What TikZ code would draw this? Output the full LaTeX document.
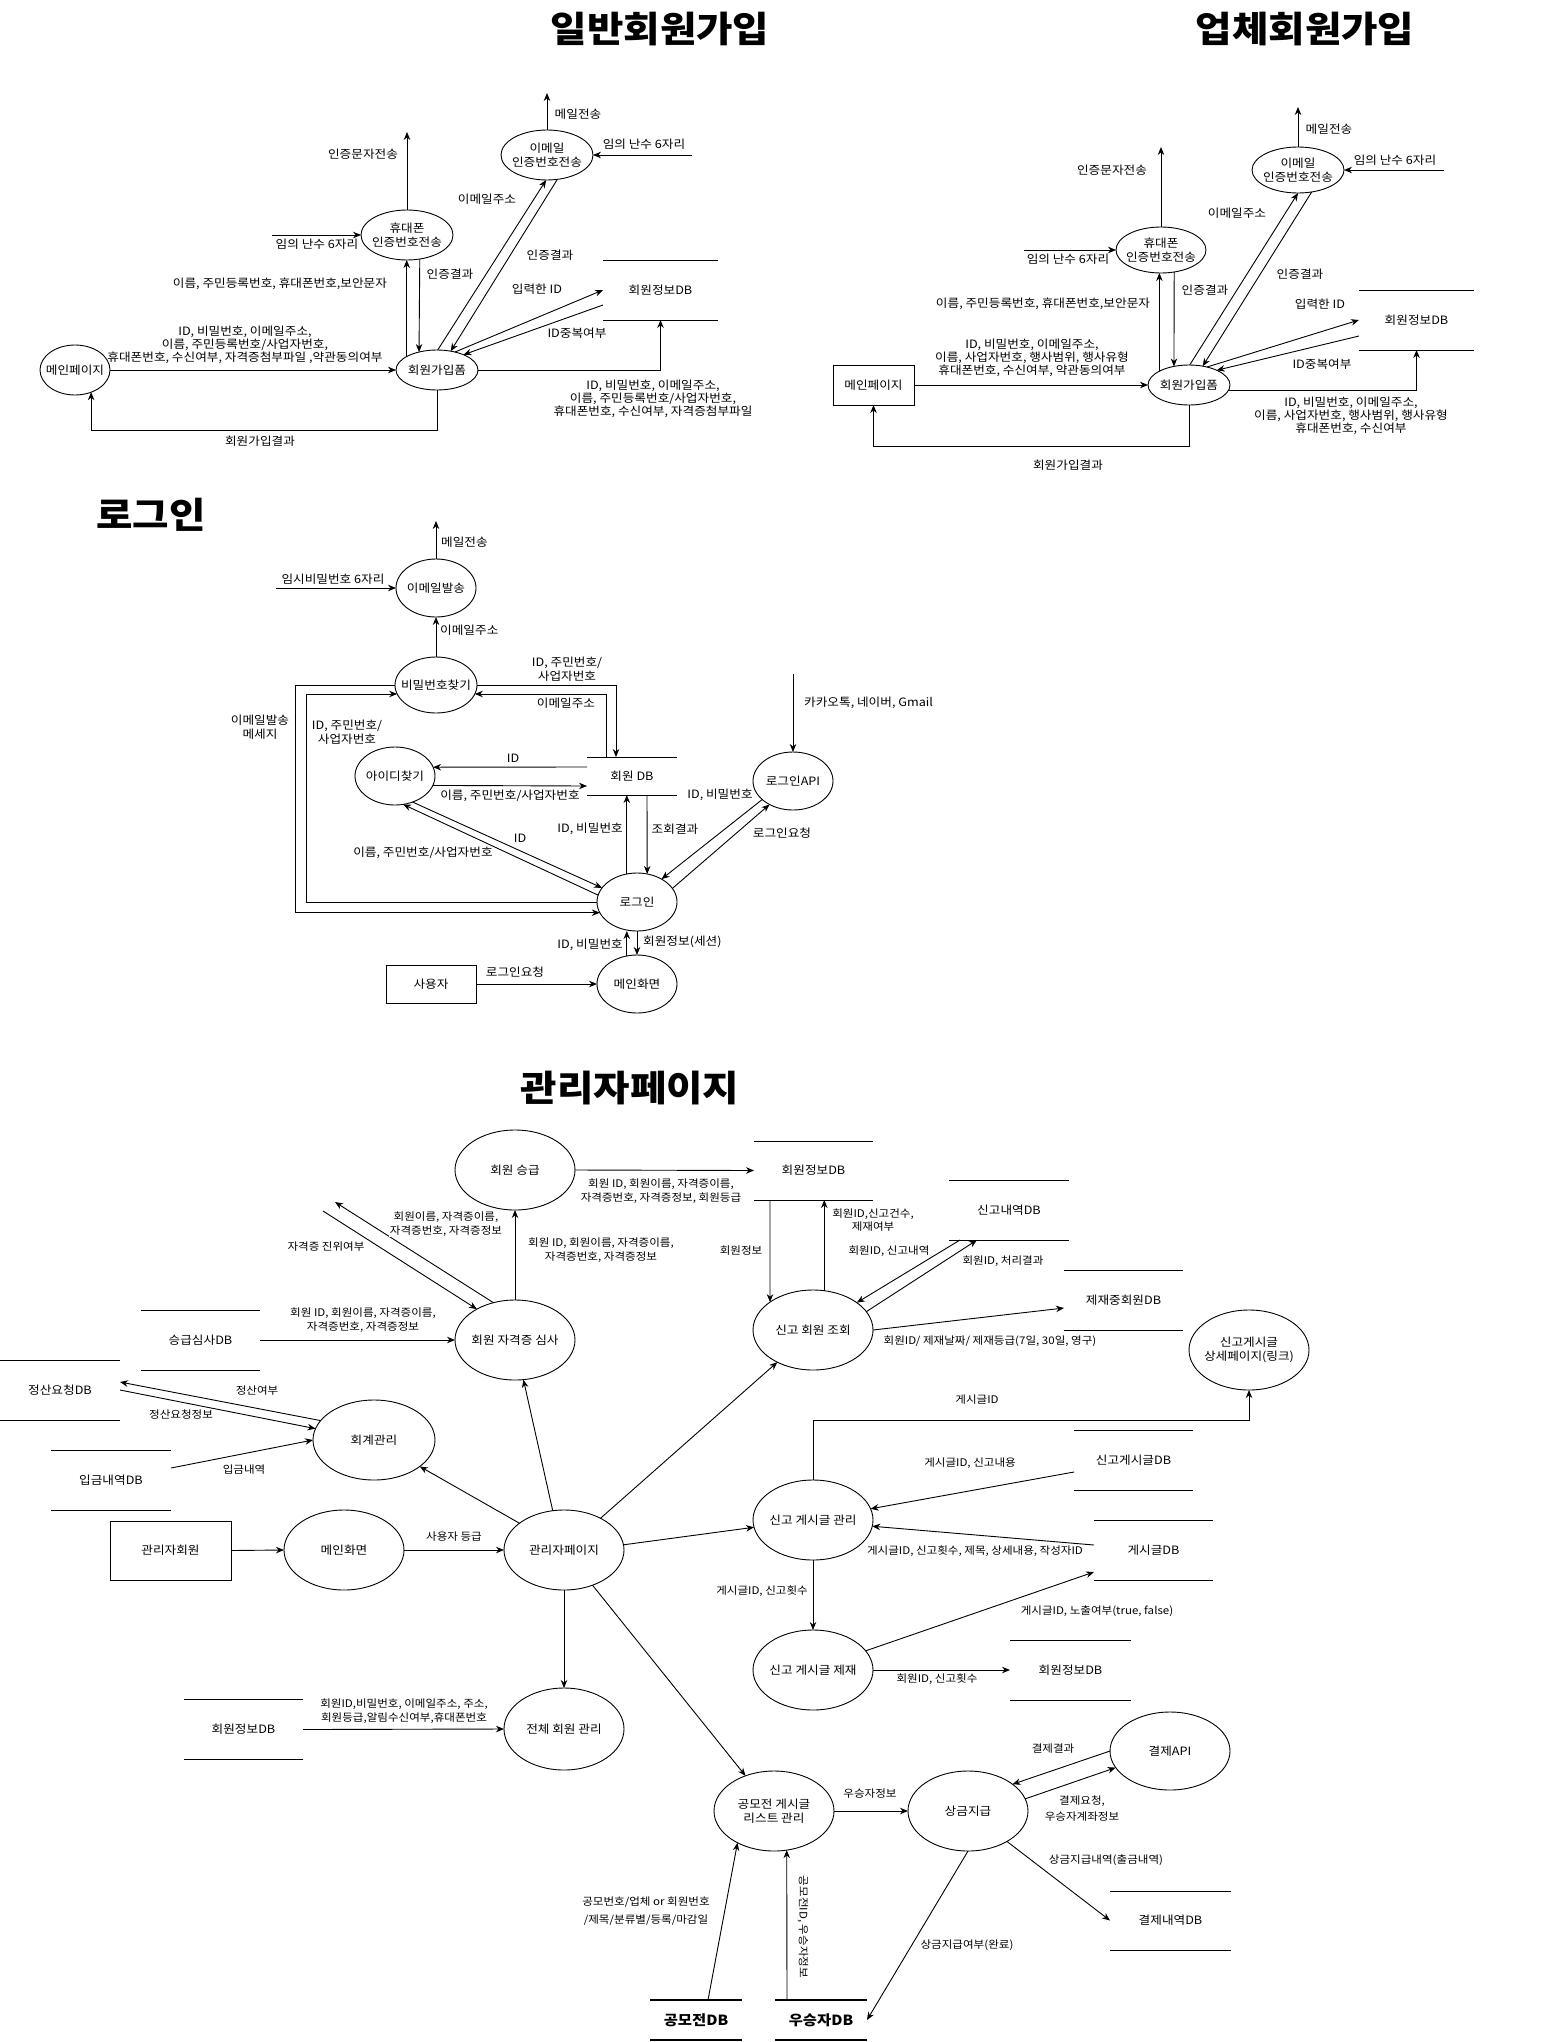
\documentclass[tikz,border=0pt]{standalone}
\usepackage{fontspec}
\setmainfont{Noto Sans CJK KR}[FakeStretch=1.1]
\usetikzlibrary{shapes.geometric,arrows.meta,calc}
\newcommand\procnode[6]{\node[proc={#4}{#5}] (#1) at (#2,#3) {}; \node[ntx] (#1-t) at (#1) {#6};}
\newcommand\storenode[6]{\node[store={#4}{#5}] (#1) at (#2,#3) {#6}; \draw[ln] (#1.north west) -- (#1.north east) (#1.south west) -- (#1.south east);}
\begin{document}
\begin{tikzpicture}[x=1pt,y=-1pt,
  ln/.style={line width=0.9pt},
  proc/.style 2 args={ellipse,draw,line width=0.9pt,minimum width=#1pt,minimum height=#2pt,inner sep=0pt,outer sep=0pt},
  boxn/.style 2 args={rectangle,draw,line width=0.9pt,minimum width=#1pt,minimum height=#2pt,inner sep=0pt,outer sep=0pt,font=\fontsize{11.5}{13.5}\selectfont},
  store/.style 2 args={rectangle,minimum width=#1pt,minimum height=#2pt,inner sep=0pt,outer sep=0pt,font=\fontsize{11.5}{13.5}\selectfont},
  ntx/.style={font=\fontsize{11.5}{14}\selectfont,align=center,inner sep=0pt},
  lbl/.style={font=\fontsize{11.5}{13.5}\selectfont,align=center,inner sep=1pt},
  tlbl/.style={font=\fontsize{11.5}{12.7}\selectfont,align=center,inner sep=1pt},
  albl/.style={font=\fontsize{10.5}{13.5}\selectfont,align=center,inner sep=1pt},
  wlbl/.style={albl,fill=white},
  ttl/.style={font=\fontsize{36}{42}\selectfont\bfseries,inner sep=0pt},
  flow/.style={line width=0.9pt,-{Stealth[length=8pt,width=6.5pt]}},
]
\fill[white] (0,0) rectangle (1552,2042);
\useasboundingbox (0,0) rectangle (1552,2042);

%================ 일반회원가입 ================
\node[ttl] (t1) at (660,29) {일반회원가입};
\procnode{mp1}{75}{370}{70}{50}{메인페이지}
\procnode{f1}{437}{370}{82}{40}{회원가입폼}
\procnode{ph1}{407}{235}{92}{50}{휴대폰\\인증번호전송}
\procnode{em1}{547}{155}{92}{50}{이메일\\인증번호전송}
\storenode{db1}{660.5}{290}{115}{60}{회원정보DB}
\coordinate (ph1out) at (407,132);
\coordinate (ph1in) at (272,235);
\coordinate (em1out) at (547,93);
\coordinate (em1in) at (692,155);

\draw[flow] (mp1.east) -- (f1.west);
\draw[flow] (f1.south) -- ++(0,40) -| (mp1.-54);
\draw[flow] (ph1.north) -- (ph1out);
\draw[flow] (ph1in) -- (ph1.west);
\draw[flow] (f1.156) -- (f1.156 |- ph1.south);
\draw[flow] (ph1.-62) -- (f1.135);
\draw[flow] (f1.88) -- (em1.-92);
\draw[flow] (em1.-67) -- (f1.54);
\draw[flow] (em1.north) -- (em1out);
\draw[flow] (em1in) -- (em1.east);
\draw[flow] (f1.45) -- (db1.west);
\draw[flow] ([yshift=-15pt]db1.west) -- (f1.30);
\draw[flow] (f1.east) -| (db1.south);

\node[lbl] (l1a) at (363,154) {인증문자전송};
\node[lbl] (l1b) at (317,244) {임의 난수 6자리};
\node[lbl] (l1c) at (280,284) {이름, 주민등록번호, 휴대폰번호,보안문자};
\node[tlbl] (l1d) at (245,345) {ID, 비밀번호, 이메일주소,\\이름, 주민등록번호/사업자번호,\\휴대폰번호, 수신여부, 자격증첨부파일 ,약관동의여부};
\node[lbl] (l1e) at (260,441) {회원가입결과};
\node[lbl] (l1f) at (450,274) {인증결과};
\node[lbl] (l1g) at (578,114) {메일전송};
\node[lbl] (l1h) at (644,144) {임의 난수 6자리};
\node[lbl] (l1i) at (487,199) {이메일주소};
\node[lbl] (l1j) at (550,255) {인증결과};
\node[lbl] (l1k) at (537,289) {입력한 ID};
\node[lbl] (l1l) at (577,333) {ID중복여부};
\node[tlbl] (l1m) at (653,399) {ID, 비밀번호, 이메일주소,\\이름, 주민등록번호/사업자번호,\\휴대폰번호, 수신여부, 자격증첨부파일};

%================ 업체회원가입 ================
\node[ttl] (t2) at (1305,29) {업체회원가입};
\node[boxn={81}{40}] (mp2) at (873.5,385) {메인페이지};
\procnode{f2}{1189}{385}{82}{40}{회원가입폼}
\procnode{ph2}{1161}{250}{90}{46}{휴대폰\\인증번호전송}
\procnode{em2}{1298}{170}{92}{46}{이메일\\인증번호전송}
\storenode{db2}{1416.5}{320}{115}{60}{회원정보DB}
\coordinate (ph2out) at (1161,147);
\coordinate (ph2in) at (1024,250);
\coordinate (em2out) at (1298,107);
\coordinate (em2in) at (1444,170);

\draw[flow] (mp2.east) -- (f2.west);
\draw[flow] (f2.south) -- ++(0,41) -| (mp2.south);
\draw[flow] (ph2.north) -- (ph2out);
\draw[flow] (ph2in) -- (ph2.west);
\draw[flow] (f2.155) -- (f2.155 |- ph2.south);
\draw[flow] (ph2.-59) -- (f2.129);
\draw[flow] (f2.88) -- (em2.-90);
\draw[flow] (em2.-58) -- (f2.54);
\draw[flow] (em2.north) -- (em2out);
\draw[flow] (em2in) -- (em2.east);
\draw[flow] (f2.45) -- (db2.west);
\draw[flow] ([yshift=-16pt]db2.west) -- (f2.28);
\draw[flow] (f2.-8) -| (db2.south);

\node[lbl] (l2a) at (1112,170) {인증문자전송};
\node[lbl] (l2b) at (1068,259) {임의 난수 6자리};
\node[lbl] (l2c) at (1043,304) {이름, 주민등록번호, 휴대폰번호,보안문자};
\node[tlbl] (l2d) at (1032,358) {ID, 비밀번호, 이메일주소,\\이름, 사업자번호, 행사범위, 행사유형\\휴대폰번호, 수신여부, 약관동의여부};
\node[lbl] (l2e) at (1068,465) {회원가입결과};
\node[lbl] (l2f) at (1205,290) {인증결과};
\node[lbl] (l2g) at (1329,129) {메일전송};
\node[lbl] (l2h) at (1395,160) {임의 난수 6자리};
\node[lbl] (l2i) at (1237,213) {이메일주소};
\node[lbl] (l2j) at (1300,274) {인증결과};
\node[lbl] (l2k) at (1320,304) {입력한 ID};
\node[lbl] (l2l) at (1322,364) {ID중복여부};
\node[tlbl] (l2m) at (1351,416) {ID, 비밀번호, 이메일주소,\\이름, 사업자번호, 행사범위, 행사유형\\휴대폰번호, 수신여부};

%================ 로그인 ================
\node[ttl] (t3) at (151,515) {로그인};
\procnode{ems}{436}{588}{80}{58}{이메일발송}
\procnode{pw}{436}{685}{82}{56}{비밀번호찾기}
\procnode{idf}{395}{776}{80}{58}{아이디찾기}
\procnode{lg}{637}{902}{80}{58}{로그인}
\procnode{api}{793}{781}{80}{58}{로그인API}
\procnode{mm}{637}{984}{80}{58}{메인화면}
\node[boxn={90}{38}] (usr) at (431,984) {사용자};
\storenode{dbm}{632}{776}{90}{38}{회원 DB}
\coordinate (emsout) at (436,521);
\coordinate (emsin) at (276,588);
\coordinate (apiin) at (793,674);

\draw[flow] (ems.north) -- (emsout);
\draw[flow] (emsin) -- (ems.west);
\draw[flow] (pw.north) -- (ems.south);
\draw[flow] (pw.east) -| ([xshift=-16pt]dbm.north);
\draw[flow] ([xshift=-26pt]dbm.north) |- (pw.-13);
\draw[flow] ([yshift=9pt]dbm.west) -- (idf.13);
\draw[flow] (idf.-14) -- ([yshift=-10pt]dbm.west);
\draw[flow] (idf.-56) -- (lg.158);
\draw[flow] (lg.170) -- (idf.-74);
\draw[flow] (pw.west) -- ++(-100,0) |- (lg.196);
\draw[flow] (lg.west) -- ++(-291,0) |- (pw.193);
\draw[flow] (lg.110) -- (lg.110 |- dbm.south);
\draw[flow] ([xshift=15pt]dbm.south) -- (lg.70);
\draw[flow] (apiin) -- (api.north);
\draw[flow] (api.211) -- (lg.43);
\draw[flow] (lg.21) -- (api.225);
\draw[flow] (mm.110) -- (mm.110 |- lg.south);
\draw[flow] (lg.south) -- (mm.north);
\draw[flow] (usr.east) -- (mm.west);

\node[lbl,anchor=west] (l3a) at (440,542) {메일전송};
\node[lbl] (l3b) at (333,579) {임시비밀번호 6자리};
\node[lbl,anchor=west] (l3c) at (439,630) {이메일주소};
\node[lbl] (l3d) at (567,669) {ID, 주민번호/\\사업자번호};
\node[lbl] (l3e) at (566,703) {이메일주소};
\node[lbl] (l3f) at (260,727) {이메일발송\\메세지};
\node[lbl] (l3g) at (347,732) {ID, 주민번호/\\사업자번호};
\node[lbl] (l3h) at (513,758) {ID};
\node[lbl] (l3i) at (510,796) {이름, 주민번호/사업자번호};
\node[lbl] (l3j) at (520,838) {ID};
\node[lbl] (l3k) at (423,853) {이름, 주민번호/사업자번호};
\node[lbl,anchor=east] (l3l) at (624,829) {ID, 비밀번호};
\node[lbl] (l3m) at (675,829) {조회결과};
\node[lbl,anchor=west] (l3n) at (803,703) {카카오톡, 네이버, Gmail};
\node[lbl] (l3o) at (720,795) {ID, 비밀번호};
\node[lbl] (l3p) at (782,833) {로그인요청};
\node[lbl,anchor=east] (l3q) at (624,945) {ID, 비밀번호};
\node[lbl,anchor=west] (l3r) at (642,942) {회원정보(세션)};
\node[lbl] (l3s) at (515,972) {로그인요청};

%================ 관리자페이지 ================
\node[ttl] (t4) at (630,1088) {관리자페이지};
\procnode{up}{515}{1170}{120}{80}{회원 승급}
\procnode{ex}{515}{1340}{120}{80}{회원 자격증 심사}
\storenode{dbsq}{200.5}{1340}{119}{60}{승급심사DB}
\storenode{dbjs}{60}{1390}{120}{60}{정산요청DB}
\procnode{acc}{374}{1440}{122}{80}{회계관리}
\storenode{dbin}{111}{1480}{120}{60}{입금내역DB}
\node[boxn={121}{59}] (adm) at (170.5,1550.5) {관리자회원};
\procnode{mm2}{344}{1550}{120}{80}{메인화면}
\procnode{ap}{564}{1550}{120}{80}{관리자페이지}
\storenode{dbt}{813.5}{1170.5}{119}{59}{회원정보DB}
\procnode{rq}{813}{1330}{120}{80}{신고 회원 조회}
\storenode{dbrp}{1009}{1210}{120}{60}{신고내역DB}
\storenode{dbban}{1123.5}{1300}{119}{60}{제재중회원DB}
\procnode{det}{1249}{1350}{120}{80}{신고게시글\\상세페이지(링크)}
\procnode{pm}{813}{1520}{120}{80}{신고 게시글 관리}
\storenode{dbrpost}{1133.5}{1460}{119}{60}{신고게시글DB}
\storenode{dbpost}{1153.5}{1550}{119}{60}{게시글DB}
\procnode{pb}{813}{1670}{120}{80}{신고 게시글 제재}
\storenode{dbm3}{1070.5}{1670}{121}{60}{회원정보DB}
\procnode{all}{564}{1729}{120}{82}{전체 회원 관리}
\storenode{dbm4}{243.5}{1729.5}{119}{60}{회원정보DB}
\procnode{cont}{774}{1811}{120}{80}{공모전 게시글\\리스트 관리}
\procnode{prize}{968}{1811}{120}{80}{상금지급}
\procnode{pay}{1170}{1751}{120}{78}{결제API}
\storenode{dbpay}{1170.5}{1920.5}{121}{59}{결제내역DB}
\node[store={92}{40},font=\fontsize{14}{16}\selectfont\bfseries] (dbcon) at (696,2020) {공모전DB};
\draw[line width=2pt] (dbcon.north west) -- (dbcon.north east) (dbcon.south west) -- (dbcon.south east);
\node[store={92}{40},font=\fontsize{14}{16}\selectfont\bfseries] (dbwin) at (821,2020) {우승자DB};
\draw[line width=2pt] (dbwin.north west) -- (dbwin.north east) (dbwin.south west) -- (dbwin.south east);
\coordinate (cout1) at (335,1202);
\coordinate (cin2) at (323,1211);

\draw[flow] (ex.north) -- (up.south);
\draw[flow] (dbsq.east) -- (ex.west);
\draw[flow] (ex.120) -- (cout1);
\draw[flow] (cin2) -- (ex.141);
\draw[flow] (acc.160) -- ([yshift=8pt]dbjs.east);
\draw[flow] (dbjs.east) -- (acc.169);
\draw[flow] ([yshift=12pt]dbin.east) -- (acc.west);
\draw[flow] (adm.east) -- (mm2.west);
\draw[flow] (mm2.east) -- (ap.west);
\draw[flow] (ap.149) -- (acc.-30);
\draw[flow] (ap.106) -- (ex.-78);
\draw[flow] (ap.41) -- (rq.222);
\draw[flow] (up.east) -- (dbt.west);
\draw[flow] ([xshift=-43.5pt]dbt.south) -- (rq.147);
\draw[flow] (rq.74) -- (rq.74 |- dbt.south);
\draw[flow] ([xshift=-49pt]dbrp.south) -- (rq.32);
\draw[flow] (rq.19) -- ([xshift=-32pt]dbrp.south);
\draw[flow] (rq.east) -- ([yshift=-8pt]dbban.west);
\draw[flow] (pm.north) -- ++(0,-60) -| (det.south);
\draw[flow] ([yshift=-12pt]dbrpost.west) -- (pm.11);
\draw[flow] ([yshift=5pt]dbpost.west) -- (pm.-6);
\draw[flow] (pm.south) -- (pb.north);
\draw[flow] (pb.20) -- ([yshift=-22pt]dbpost.west);
\draw[flow] (pb.east) -- (dbm3.west);
\draw[flow] (ap.5) -- (pm.187);
\draw[flow] (ap.south) -- (all.north);
\draw[flow] (dbm4.east) -- (all.west);
\draw[flow] (ap.-51) -- (cont.129);
\draw[flow] (cont.east) -- (prize.west);
\draw[flow] (pay.west) -- (prize.31);
\draw[flow] (prize.12) -- (pay.197);
\draw[flow] (prize.-38) -- (dbpay.west);
\draw[flow] (prize.south) -- (dbwin.east);
\draw[flow] ([xshift=12pt]dbcon.north) -- (cont.221);
\draw[flow] ([xshift=-34pt]dbwin.north) -- (cont.-72);

\node[albl] (a1) at (601,1250) {회원 ID, 회원이름, 자격증이름,\\자격증번호, 자격증정보};
\node[albl] (a2) at (363,1320) {회원 ID, 회원이름, 자격증이름,\\자격증번호, 자격증정보};
\node[wlbl] (a3) at (446,1224) {회원이름, 자격증이름,\\자격증번호, 자격증정보};
\node[albl] (a4) at (326,1247) {자격증 진위여부};
\node[albl] (a5) at (257,1391) {정산여부};
\node[albl] (a6) at (181,1415) {정산요청정보};
\node[albl] (a7) at (244,1470) {입금내역};
\node[albl] (a8) at (454,1537) {사용자 등급};
\node[albl] (a9) at (661,1191) {회원 ID, 회원이름, 자격증이름,\\자격증번호, 자격증정보, 회원등급};
\node[albl] (a10) at (741,1251) {회원정보};
\node[albl] (a11) at (873,1220) {회원ID,신고건수,\\제재여부};
\node[albl] (a12) at (889,1251) {회원ID, 신고내역};
\node[albl] (a13) at (1003,1261) {회원ID, 처리결과};
\node[albl] (a14) at (990,1341) {회원ID/ 제재날짜/ 제재등급(7일, 30일, 영구)};
\node[albl] (a15) at (977,1400) {게시글ID};
\node[albl] (a16) at (970,1463) {게시글ID, 신고내용};
\node[albl] (a17) at (975,1551) {게시글ID, 신고횟수, 제목, 상세내용, 작성자ID};
\node[albl] (a18) at (762,1591) {게시글ID, 신고횟수};
\node[albl] (a19) at (1097,1611) {게시글ID, 노출여부(true, false)};
\node[albl] (a20) at (937,1679) {회원ID, 신고횟수};
\node[albl] (a21) at (404,1711) {회원ID,비밀번호, 이메일주소, 주소,\\회원등급,알림수신여부,휴대폰번호};
\node[albl] (a22) at (870,1794) {우승자정보};
\node[albl] (a23) at (1053,1749) {결제결과};
\node[albl,font=\fontsize{10.5}{16}\selectfont] (a24) at (1082,1809) {결제요청,\\우승자계좌정보};
\node[albl] (a25) at (1106,1860) {상금지급내역(출금내역)};
\node[albl] (a26) at (967,1945) {상금지급여부(완료)};
\node[albl,font=\fontsize{10.5}{18}\selectfont] (a27) at (646,1911) {공모번호/업체 or 회원번호\\/제목/분류별/등록/마감일};
\node[albl,rotate=-90] (a28) at (803,1927) {공모전ID, 우승자정보};
\end{tikzpicture}
\end{document}
